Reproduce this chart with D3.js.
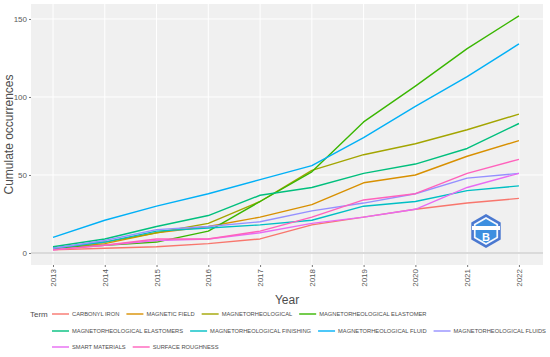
<!DOCTYPE html>
<html>
<head>
<meta charset="utf-8">
<script src="https://cdn.jsdelivr.net/npm/d3@7"></script>
<style>
  body { margin: 0; background: #fff; }
  svg { font-family: "Liberation Sans", Arial, sans-serif; display: block; }
  .tick-label { fill: #595959; font-size: 8px; }
  .axis-title { fill: #4d4d4d; font-size: 12px; }
  .legend-text { fill: #4d4d4d; font-size: 5.75px; }
</style>
</head>
<body>
<div id="chart"></div>
<script>
const years = [2013, 2014, 2015, 2016, 2017, 2018, 2019, 2020, 2021, 2022];
const yTicks = [0, 50, 100, 150];

const terms = [
  'CARBONYL IRON', 'MAGNETIC FIELD', 'MAGNETORHEOLOGICAL', 'MAGNETORHEOLOGICAL ELASTOMER',
  'MAGNETORHEOLOGICAL ELASTOMERS', 'MAGNETORHEOLOGICAL FINISHING', 'MAGNETORHEOLOGICAL FLUID',
  'MAGNETORHEOLOGICAL FLUIDS', 'SMART MATERIALS', 'SURFACE ROUGHNESS'
];

const carbonylIron = [2, 3, 4, 6, 9, 18, 23, 28, 32, 35];
const magneticField = [3, 6, 13, 17, 23, 31, 45, 50, 62, 72];
const magnetorheological = [3, 7, 13, 19, 33, 53, 63, 70, 79, 89];
const mrElastomer = [3, 5, 7, 14, 33, 52, 84, 107, 131, 152];
const mrElastomers = [4, 9, 17, 24, 37, 42, 51, 57, 67, 83];
const mrFinishing = [3, 7, 14, 16, 18, 21, 30, 33, 40, 43];
const mrFluid = [10, 21, 30, 38, 47, 56, 74, 94, 113, 134];
const mrFluids = [3, 8, 15, 17, 20, 27, 32, 38, 48, 51];
const smartMaterials = [2, 5, 8, 9, 13, 19, 23, 28, 42, 51];
const surfaceRoughness = [2, 5, 9, 9, 14, 23, 34, 38, 51, 60];

const seriesValues = [carbonylIron, magneticField, magnetorheological, mrElastomer, mrElastomers,
  mrFinishing, mrFluid, mrFluids, smartMaterials, surfaceRoughness];

const colors = ['#F8766D', '#D89000', '#A3A500', '#39B600', '#00BF7D',
  '#00BFC4', '#00B0F6', '#9590FF', '#E76BF3', '#FF62BC'];

const width = 550;
const height = 357;
const panel = {left: 31, right: 543, top: 4, bottom: 265};

let svg = d3.select('#chart').append('svg')
  .attr('width', width)
  .attr('height', height)

let x = d3.scaleLinear()
  .domain([2012.575, 2022.465])
  .range([panel.left, panel.right])

let y = d3.scaleLinear()
  .domain([-7.7, 159.6])
  .range([panel.bottom, panel.top])

svg.append('rect')
  .attr('x', panel.left)
  .attr('y', panel.top)
  .attr('width', panel.right - panel.left)
  .attr('height', panel.bottom - panel.top)
  .attr('fill', '#f0f0f0')

// grid
svg.append('g').selectAll('line').data(years).join('line')
  .attr('x1', d => x(d)).attr('x2', d => x(d))
  .attr('y1', panel.top).attr('y2', panel.bottom)
  .attr('stroke', '#fff').attr('stroke-width', 1)

svg.append('g').selectAll('line').data(yTicks).join('line')
  .attr('x1', panel.left).attr('x2', panel.right)
  .attr('y1', d => y(d)).attr('y2', d => y(d))
  .attr('stroke', d => d === 0 ? '#dadada' : '#fff')
  .attr('stroke-width', d => d === 0 ? 2 : 1)

// axes
let yAxis = svg.append('g')
  .attr('transform', `translate(${panel.left},0)`)
  .call(d3.axisLeft(y).tickValues(yTicks).tickSize(2).tickPadding(2))
yAxis.select('.domain').remove()
yAxis.selectAll('line').attr('stroke', '#777')
yAxis.selectAll('text').attr('class', 'tick-label').attr('font-family', null).attr('font-size', null)

let xAxis = svg.append('g')
  .attr('transform', `translate(0,${panel.bottom})`)
  .call(d3.axisBottom(x).tickValues(years).tickFormat(d3.format('d')).tickSize(2).tickPadding(3))
xAxis.select('.domain').remove()
xAxis.selectAll('line').attr('stroke', '#777')
xAxis.selectAll('text')
  .attr('class', 'tick-label')
  .attr('font-family', null).attr('font-size', null)
  .attr('transform', 'rotate(-90)')
  .attr('text-anchor', 'end')
  .attr('dy', '0.32em')
  .attr('x', -4)
  .attr('y', 0)

svg.append('text')
  .attr('class', 'axis-title')
  .attr('transform', `translate(13,${(panel.top + panel.bottom) / 2}) rotate(-90)`)
  .attr('text-anchor', 'middle')
  .text('Cumulate occurrences')

svg.append('text')
  .attr('class', 'axis-title')
  .attr('x', (panel.left + panel.right) / 2)
  .attr('y', 304)
  .attr('text-anchor', 'middle')
  .text('Year')

// watermark badge
let badge = svg.append('g').attr('transform', 'translate(486,231)')
let hex = r => d3.range(6).map(i => {
  let a = Math.PI / 3 * i - Math.PI / 2;
  return [r * Math.cos(a), r * Math.sin(a)];
});
badge.append('polygon').attr('points', hex(17).join(' ')).attr('fill', '#4a78d0')
badge.append('polygon').attr('points', hex(14).join(' ')).attr('fill', '#f4f8fd')
badge.append('polygon').attr('points', hex(12).join(' ')).attr('fill', '#3d8fe0')
badge.append('rect').attr('x', -14).attr('y', -5).attr('width', 28).attr('height', 4).attr('fill', '#fff')
badge.append('text').attr('x', 0).attr('y', 10).attr('text-anchor', 'middle')
  .attr('font-size', 11).attr('font-weight', 'bold').attr('fill', '#fff').text('B')

// lines
let line = d3.line()
  .x((d, i) => x(years[i]))
  .y(d => y(d))

svg.append('g').selectAll('path').data(seriesValues).join('path')
  .attr('d', line)
  .attr('fill', 'none')
  .attr('stroke', (d, i) => colors[i])
  .attr('stroke-width', 1.4)
  .attr('stroke-linejoin', 'round')

// legend
svg.append('text')
  .attr('x', 30)
  .attr('y', 317)
  .attr('font-size', 8)
  .attr('fill', '#4d4d4d')
  .text('Term')

const legendRows = [[0, 1, 2, 3], [4, 5, 6, 7], [8, 9]];
const rowY = [314, 331, 347];

legendRows.forEach((row, r) => {
  let cx = 52;
  row.forEach(i => {
    let g = svg.append('g');
    g.append('line')
      .attr('x1', cx).attr('x2', cx + 17)
      .attr('y1', rowY[r]).attr('y2', rowY[r])
      .attr('stroke', colors[i]).attr('stroke-width', 1.4)
    let t = g.append('text')
      .attr('class', 'legend-text')
      .attr('x', cx + 20)
      .attr('y', rowY[r])
      .attr('dy', '0.35em')
      .text(terms[i])
    cx += 20 + t.node().getComputedTextLength() + 7;
  });
});
</script>
</body>
</html>
